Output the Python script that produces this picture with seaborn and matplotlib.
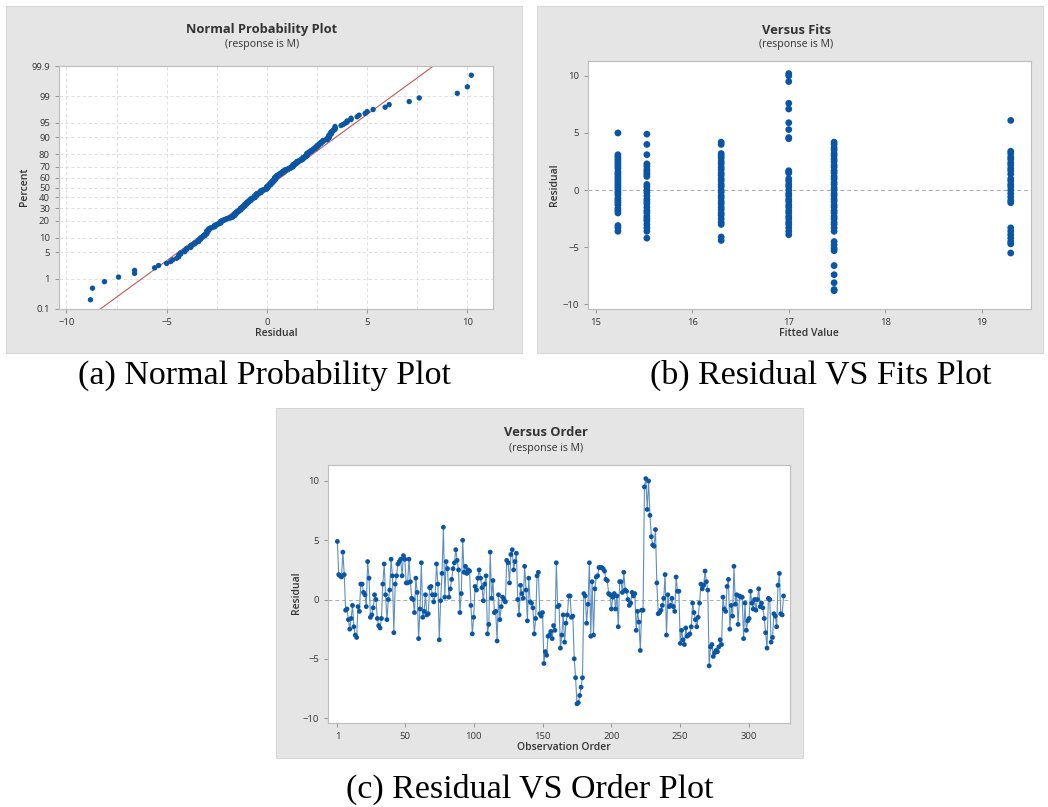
import matplotlib
matplotlib.use("Agg")
import numpy as np
import pandas as pd
import matplotlib.pyplot as plt
import seaborn as sns
from matplotlib.patches import Rectangle
from statistics import NormalDist

residuals = [
    4.9, 2.1, 2.0, 1.9, 4.0, 2.1, -0.9, -0.8, -1.7, -2.5, -1.6, -0.5, -2.3, -3.0, -3.2, -0.6, -1.0, 1.3, 1.3, 0.6, 0.4, -0.6, 3.2, 1.8, -1.5,
    -1.3, -0.7, 0.4, 0.0, -1.6, -2.2, -2.4, -1.6, 1.3, 3.0, 0.4, -1.7, 0.0, 0.8, 3.4, 2.0, -2.8, 1.3, 2.0, 3.0, 3.2, 3.4, 2.0, 3.7, 3.4,
    1.4, 1.4, 3.4, 1.5, 0.1, 0.0, -1.1, 1.8, 0.6, -3.3, -0.8, 3.1, -1.5, -1.0, 0.4, -1.3, -1.2, 1.0, 1.1, 0.4, -0.2, 0.4, 3.0, 1.3, -3.4,
    -0.1, 2.2, 6.1, 0.2, 3.2, 2.6, 0.2, 0.9, 1.7, 2.6, 3.1, 4.2, 3.3, 2.5, -1.1, 0.5, 5.0, 2.3, 2.8, 2.2, 2.5, 2.4, -0.5, -2.9, -1.5,
    1.1, 0.8, 1.8, 2.5, 1.8, 1.0, -0.1, 1.3, 2.0, -2.9, -2.1, 4.0, 0.1, 1.6, -1.1, -1.0, -3.5, 0.4, -1.7, -0.6, 0.2, 0.0, -0.2, 3.3, 3.1,
    1.4, 3.8, 4.2, 2.5, 3.2, 3.9, 0.0, -1.3, 1.2, 0.5, 0.1, 2.8, 0.8, -1.8, 1.8, -0.2, -0.3, -0.7, -2.9, -1.6, 2.0, 2.3, -1.2, -1.4, -1.1,
    -5.4, -4.4, -4.7, -3.1, -3.0, -2.7, -3.3, -2.2, -2.6, 3.1, -0.6, -0.5, -4.1, -3.0, -1.3, -3.6, -2.0, -1.3, 0.3, 0.3, -1.5, -1.4, -5.0, -6.6, -8.8,
    -8.7, -8.1, -7.4, -6.6, 0.5, 0.3, -2.0, -0.4, 3.1, -3.1, 1.5, -3.0, 0.9, 1.9, 2.0, 2.7, 2.7, 2.7, 2.6, 2.4, 1.7, 1.6, 0.5, 0.4, -0.8,
    0.2, 0.5, -0.8, 0.3, -2.3, 1.5, 1.5, 0.6, 2.3, 0.8, 0.7, 0.0, -0.5, -0.3, 0.6, 0.3, 0.5, -2.6, -1.0, -1.9, -4.3, -0.9, -0.9, 9.5, 10.2,
    7.6, 10.0, 7.1, 5.3, 4.6, 4.5, 5.9, 1.4, -1.2, -1.1, -0.9, -0.5, 0.1, 2.1, -3.0, 0.4, -0.6, -0.5, 0.1, -0.6, -1.0, 1.9, 0.7, 0.7, -3.7,
    -2.6, -3.4, -3.8, -2.4, -3.1, -3.0, -2.9, -2.3, -0.3, -1.1, -1.7, -2.3, -1.5, -0.3, 1.3, 0.9, 1.2, 2.4, 1.5, 0.8, -5.6, -4.0, -3.8, -4.8, -4.5,
    -4.3, -4.4, -4.0, -3.4, -3.8, 0.2, -0.8, -1.0, 1.1, 1.7, -2.5, -0.5, -1.4, 2.8, -0.4, 0.4, -2.1, 0.3, 0.2, 0.2, -3.3, -0.3, -2.6, -1.8, -1.6,
    0.7, -0.3, -0.8, 0.0, -0.9, 0.0, 0.9, -0.6, -0.3, -0.7, -1.6, -2.8, -4.1, 0.1, 0.0, -3.6, -3.2, -1.2, -1.4, -2.3, 1.2, 2.2, -1.2, -1.3, 0.3,
]

fit_levels = [15.23, 15.53, 16.30, 17.00, 17.47, 19.30]
res_fit_1523 = [5.0, 3.1, 2.9, 2.7, 2.5, 2.3, 2.1, 1.9, 1.6, 1.4, 1.2, 1.0, 0.8, 0.6, 0.4, 0.2, 0.0,
                -0.2, -0.4, -0.7, -0.9, -1.1, -1.3, -1.6, -1.8, -2.0, -3.1, -3.3, -3.6]
res_fit_1553 = [4.9, 4.0, 3.1, 2.3, 2.1, 1.8, 1.6, 1.4, 1.2, 0.5, 0.3, 0.0, -0.2, -0.5, -0.8, -1.0, -1.2,
                -1.5, -1.8, -2.0, -2.3, -2.5, -2.7, -3.0, -3.3, -3.6, -4.2]
res_fit_1630 = [4.2, 4.0, 3.2, 3.0, 2.8, 2.5, 2.3, 2.0, 1.8, 1.5, 1.3, 1.0, 0.8, 0.5, 0.3, 0.0, -0.2,
                -0.5, -0.7, -1.0, -1.2, -1.5, -1.7, -2.0, -2.2, -2.5, -2.8, -3.0, -4.1, -4.4]
res_fit_1700 = [10.2, 10.0, 9.5, 7.6, 7.1, 5.9, 5.3, 4.6, 4.5, 1.7, 1.6, 1.5, 1.0, 0.8, 0.5, 0.3, 0.0,
                -0.3, -0.5, -0.8, -1.0, -1.3, -1.5, -1.8, -2.0, -2.3, -2.5, -2.8, -3.0, -3.3, -3.6, -3.9]
res_fit_1747 = [4.2, 4.0, 3.7, 3.5, 3.2, 3.0, 2.7, 2.5, 2.2, 2.0, 1.7, 1.5, 1.2, 1.0, 0.7, 0.5, 0.2, 0.0,
                -0.3, -0.5, -0.8, -1.0, -1.3, -1.5, -1.8, -2.0, -2.3, -2.5, -2.8, -3.0, -3.3, -3.6,
                -4.5, -4.8, -5.1, -5.3, -6.6, -7.4, -8.1, -8.7, -8.8]
res_fit_1930 = [6.1, 3.4, 3.2, 2.9, 2.7, 2.4, 2.2, 1.9, 1.7, 1.4, 1.0, 0.8, 0.5, 0.3, 0.0, -0.3,
                -0.6, -0.9, -1.1, -3.3, -3.6, -3.9, -4.2, -4.5, -4.7, -5.5]

pct_ticks = [0.1, 1, 5, 10, 20, 30, 40, 50, 60, 70, 80, 90, 95, 99, 99.9]
order_ticks = [1, 50, 100, 150, 200, 250, 300]

BLUE = '#0a56a5'
LINE = '#5f8fbf'
GRAY = '#e5e5e5'
SPINE = '#bdbdbd'
TXT = '#333333'

sns.set_style("white")
plt.rcParams['font.family'] = ['Open Sans', 'DejaVu Sans']

W, H = 1048, 807
fig = plt.figure(figsize=(W / 100, H / 100), dpi=100)


def box(x0, y0, x1, y1):
    return [x0 / W, 1 - y1 / H, (x1 - x0) / W, (y1 - y0) / H]


def panel(x0, y0, x1, y1):
    fig.add_artist(Rectangle((x0 / W, 1 - y1 / H), (x1 - x0) / W, (y1 - y0) / H,
                             transform=fig.transFigure, facecolor=GRAY,
                             edgecolor='#d0d0d0', lw=0.6, zorder=0))


def ftext(x, y, s, **kw):
    fig.text(x / W, 1 - y / H, s, ha='center', va='center', color=TXT, **kw)


def style_ax(ax):
    ax.set_facecolor('white')
    for sp in ax.spines.values():
        sp.set_color(SPINE)
        sp.set_linewidth(0.8)
    ax.tick_params(axis='both', which='both', labelsize=6.8, colors='#888888',
                   labelcolor=TXT, length=3, width=0.6, direction='out',
                   left=True, bottom=True)
    ax.set_xlabel('')
    ax.set_ylabel('')


# ---------------- (a) Normal probability plot ----------------
panel(6, 6, 522, 353)
ax1 = fig.add_axes(box(59, 66, 493, 309))
nd = NormalDist()
srt = np.sort(np.array(residuals))
n = len(srt)
z = np.array([nd.inv_cdf((i - 0.3) / (n + 0.4)) for i in range(1, n + 1)])
sd = srt.std(ddof=1)  # residuals have mean zero
zlo, zhi = nd.inv_cdf(0.001), nd.inv_cdf(0.999)

for gx in np.arange(-10, 12.6, 2.5):
    ax1.axvline(gx, color='#dadada', lw=0.6, ls=(0, (4, 3)), zorder=0)
for p in pct_ticks:
    ax1.axhline(nd.inv_cdf(p / 100), color='#dadada', lw=0.6, ls=(0, (4, 3)), zorder=0)

zl = np.array([zlo - 0.5, zhi + 0.5])
ax1.plot(sd * zl, zl, color='#c0575a', lw=0.8, zorder=1)
sns.scatterplot(x=srt, y=z, ax=ax1, color=BLUE, s=15, edgecolor='none', zorder=2)
ax1.set_xlim(-10.37, 11.28)
ax1.set_ylim(zlo, zhi)
ax1.set_xticks([-10, -5, 0, 5, 10])
ax1.set_yticks([nd.inv_cdf(p / 100) for p in pct_ticks])
ax1.set_yticklabels([f'{p:g}' for p in pct_ticks])
style_ax(ax1)

ftext(262, 30, 'Normal Probability Plot', fontsize=9.3, fontweight='bold')
ftext(262, 45, '(response is M)', fontsize=7.6)
ftext(276, 333, 'Residual', fontsize=7.5, fontweight='semibold')
ftext(25, 187, 'Percent', fontsize=7.5, fontweight='semibold', rotation=90)

# ---------------- (b) Versus fits ----------------
panel(537, 6, 1043, 353)
ax2 = fig.add_axes(box(588, 61, 1031, 309))
groups = [res_fit_1523, res_fit_1553, res_fit_1630, res_fit_1700, res_fit_1747, res_fit_1930]
fits_df = pd.DataFrame({
    'fit': np.concatenate([[f] * len(g) for f, g in zip(fit_levels, groups)]),
    'res': np.concatenate(groups),
})
ax2.axhline(0, color='#aaaaaa', lw=0.7, ls=(0, (4, 3)), zorder=0)
sns.scatterplot(data=fits_df, x='fit', y='res', ax=ax2, color=BLUE, s=24,
                edgecolor='none', zorder=2)
ax2.set_xlim(14.92, 19.51)
ax2.set_ylim(-10.4, 11.3)
ax2.set_xticks([15, 16, 17, 18, 19])
ax2.set_yticks([-10, -5, 0, 5, 10])
style_ax(ax2)

ftext(796, 30, 'Versus Fits', fontsize=9.3, fontweight='bold')
ftext(796, 45, '(response is M)', fontsize=7.6)
ftext(809, 333, 'Fitted Value', fontsize=7.5, fontweight='semibold')
ftext(555, 185, 'Residual', fontsize=7.5, fontweight='semibold', rotation=90)

# ---------------- (c) Versus order ----------------
panel(276, 408, 803, 758)
ax3 = fig.add_axes(box(328, 465, 790, 723))
order_df = pd.DataFrame({'obs': np.arange(1, len(residuals) + 1), 'res': residuals})
ax3.axhline(0, color='#aaaaaa', lw=0.7, ls=(0, (4, 3)), zorder=0)
sns.lineplot(data=order_df, x='obs', y='res', ax=ax3, color=LINE, lw=0.8, zorder=1)
sns.scatterplot(data=order_df, x='obs', y='res', ax=ax3, color=BLUE, s=12,
                edgecolor='none', zorder=2)
ax3.set_xlim(-5.8, 329.7)
ax3.set_ylim(-10.42, 11.35)
ax3.set_xticks(order_ticks)
ax3.set_yticks([-10, -5, 0, 5, 10])
style_ax(ax3)

ftext(546, 433, 'Versus Order', fontsize=9.3, fontweight='bold')
ftext(546, 449, '(response is M)', fontsize=7.6)
ftext(564, 748, 'Observation Order', fontsize=7.5, fontweight='semibold')
ftext(297, 593, 'Residual', fontsize=7.5, fontweight='semibold', rotation=90)

# ---------------- captions ----------------
cap = dict(fontsize=24.5, family=['Liberation Serif', 'DejaVu Serif'], color='black')
fig.text(265 / W, 1 - 375 / H, '(a) Normal Probability Plot', ha='center', va='center', **cap)
fig.text(821 / W, 1 - 375 / H, '(b) Residual VS Fits Plot', ha='center', va='center', **cap)
fig.text(530 / W, 1 - 789 / H, '(c) Residual VS Order Plot', ha='center', va='center', **cap)

fig.savefig('out.png', dpi=100, facecolor='white')
